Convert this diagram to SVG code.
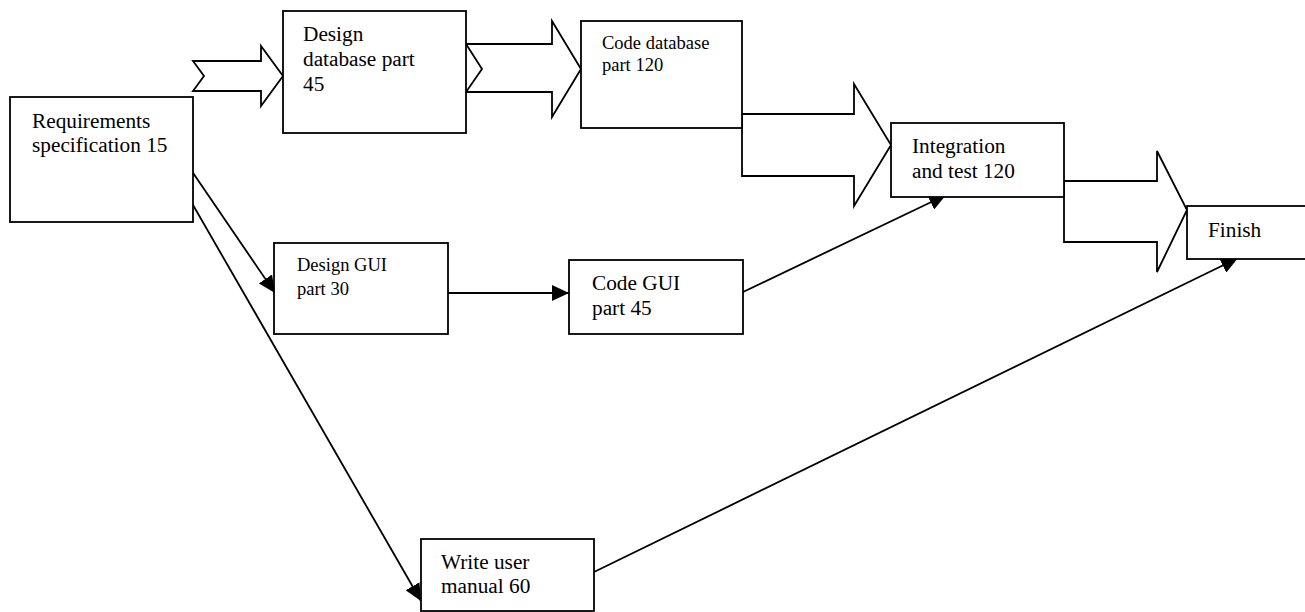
<svg xmlns="http://www.w3.org/2000/svg" width="1305" height="612" viewBox="0 0 1305 612">
<defs>
<style>
.box{fill:#fff;stroke:#000;stroke-width:1.8}
.blk{fill:#fff;stroke:#000;stroke-width:1.8;stroke-linejoin:miter}
.ln{fill:none;stroke:#000;stroke-width:1.8}
.t{font-family:"Liberation Serif","Times New Roman",serif;font-size:21.3px;fill:#000}
.s{font-family:"Liberation Serif","Times New Roman",serif;font-size:18.5px;fill:#000}
</style>
<marker id="ah" markerUnits="userSpaceOnUse" markerWidth="18" markerHeight="16" refX="17" refY="8" orient="auto">
<path d="M0,0 L17,8 L0,16 Z" fill="#000"/>
</marker>
</defs>
<rect width="1305" height="612" fill="#fff"/>
<g id="connectors">
<polygon class="blk" points="193,61 261,61 261,46 283,76 261,106 261,91 193,91 204,76"/>
<polygon class="blk" points="466,44 552,44 552,21 581,69 552,117 552,92 466,92 482,69"/>
<polygon class="blk" points="742,114 854,114 854,84 891,145 854,206 854,176 742,176"/>
<polygon class="blk" points="1064,181 1157,181 1157,151 1187,210 1157,272 1157,242 1064,242"/>
<line class="ln" x1="189" y1="167" x2="275" y2="293" marker-end="url(#ah)"/>
<line class="ln" x1="189" y1="198" x2="421" y2="601" marker-end="url(#ah)"/>
<line class="ln" x1="448" y1="293" x2="569" y2="293" marker-end="url(#ah)"/>
<line class="ln" x1="743" y1="292" x2="946" y2="195" marker-end="url(#ah)"/>
<line class="ln" x1="594" y1="572" x2="1238" y2="258" marker-end="url(#ah)"/>
</g>
<g id="req">
<rect class="box" x="10" y="97" width="183" height="125"/>
<text class="t" x="32" y="128">Requirements</text>
<text class="t" x="32" y="152">specification 15</text>
</g>
<g id="designdb">
<rect class="box" x="283" y="11" width="183" height="122"/>
<text class="t" x="303" y="41">Design</text>
<text class="t" x="303" y="66">database part</text>
<text class="t" x="303" y="90.5">45</text>
</g>
<g id="codedb">
<rect class="box" x="581" y="21" width="161" height="107"/>
<text class="s" x="602" y="48.5">Code database</text>
<text class="s" x="602" y="70.5">part 120</text>
</g>
<g id="integration">
<rect class="box" x="891" y="123" width="173" height="74"/>
<text class="t" x="912" y="153">Integration</text>
<text class="t" x="912" y="178">and test 120</text>
</g>
<g id="finish">
<rect class="box" x="1187" y="206" width="130" height="53"/>
<text class="t" x="1208" y="237">Finish</text>
</g>
<g id="designgui">
<rect class="box" x="274" y="243" width="174" height="91"/>
<text class="s" x="297" y="271">Design GUI</text>
<text class="s" x="297" y="295">part 30</text>
</g>
<g id="codegui">
<rect class="box" x="569" y="260" width="174" height="74"/>
<text class="t" x="592" y="290">Code GUI</text>
<text class="t" x="592" y="315">part 45</text>
</g>
<g id="manual">
<rect class="box" x="421" y="539" width="173" height="72"/>
<text class="t" x="441" y="569">Write user</text>
<text class="t" x="441" y="593">manual 60</text>
</g>
</svg>
